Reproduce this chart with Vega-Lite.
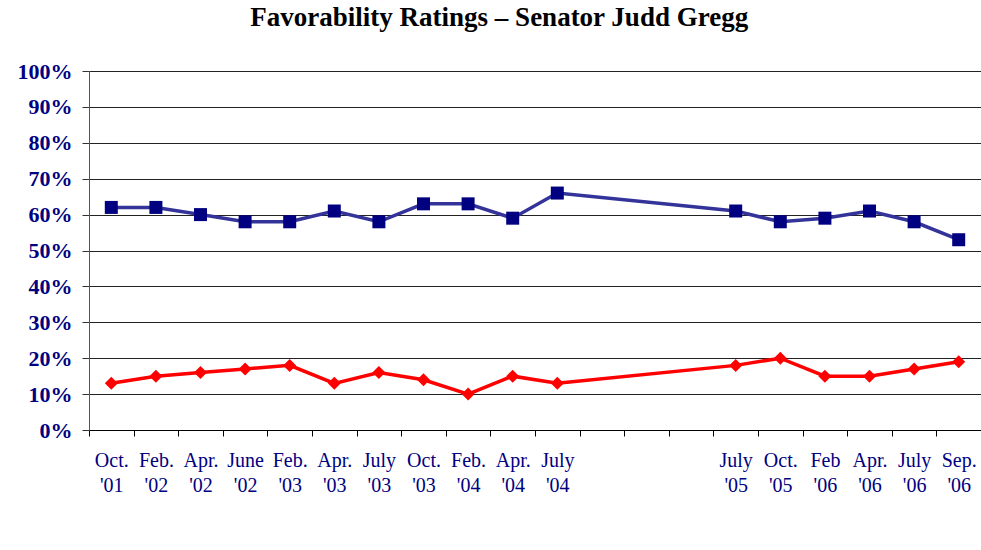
{
  "$schema": "https://vega.github.io/schema/vega-lite/v6.json",
  "autosize": {"type": "none"},
  "padding": {"left": 89, "top": 71, "right": 0, "bottom": 120},
  "width": 892,
  "height": 359,
  "background": "white",
  "title": {
    "text": "Favorability Ratings – Senator Judd Gregg",
    "font": "Liberation Serif",
    "fontSize": 27,
    "fontWeight": "bold",
    "color": "#000000",
    "anchor": "middle",
    "frame": "bounds",
    "offset": 28
  },
  "data": {
    "values": [
      {"period": "Oct.|'01", "series": "Favorable", "value": 62},
      {"period": "Feb.|'02", "series": "Favorable", "value": 62},
      {"period": "Apr.|'02", "series": "Favorable", "value": 60},
      {"period": "June|'02", "series": "Favorable", "value": 58},
      {"period": "Feb.|'03", "series": "Favorable", "value": 58},
      {"period": "Apr.|'03", "series": "Favorable", "value": 61},
      {"period": "July|'03", "series": "Favorable", "value": 58},
      {"period": "Oct.|'03", "series": "Favorable", "value": 63},
      {"period": "Feb.|'04", "series": "Favorable", "value": 63},
      {"period": "Apr.|'04", "series": "Favorable", "value": 59},
      {"period": "July|'04", "series": "Favorable", "value": 66},
      {"period": "July|'05", "series": "Favorable", "value": 61},
      {"period": "Oct.|'05", "series": "Favorable", "value": 58},
      {"period": "Feb|'06", "series": "Favorable", "value": 59},
      {"period": "Apr.|'06", "series": "Favorable", "value": 61},
      {"period": "July|'06", "series": "Favorable", "value": 58},
      {"period": "Sep.|'06", "series": "Favorable", "value": 53},
      {"period": "Oct.|'01", "series": "Unfavorable", "value": 13},
      {"period": "Feb.|'02", "series": "Unfavorable", "value": 15},
      {"period": "Apr.|'02", "series": "Unfavorable", "value": 16},
      {"period": "June|'02", "series": "Unfavorable", "value": 17},
      {"period": "Feb.|'03", "series": "Unfavorable", "value": 18},
      {"period": "Apr.|'03", "series": "Unfavorable", "value": 13},
      {"period": "July|'03", "series": "Unfavorable", "value": 16},
      {"period": "Oct.|'03", "series": "Unfavorable", "value": 14},
      {"period": "Feb.|'04", "series": "Unfavorable", "value": 10},
      {"period": "Apr.|'04", "series": "Unfavorable", "value": 15},
      {"period": "July|'04", "series": "Unfavorable", "value": 13},
      {"period": "July|'05", "series": "Unfavorable", "value": 18},
      {"period": "Oct.|'05", "series": "Unfavorable", "value": 20},
      {"period": "Feb|'06", "series": "Unfavorable", "value": 15},
      {"period": "Apr.|'06", "series": "Unfavorable", "value": 15},
      {"period": "July|'06", "series": "Unfavorable", "value": 17},
      {"period": "Sep.|'06", "series": "Unfavorable", "value": 19}
    ]
  },
  "encoding": {
    "x": {
      "field": "period",
      "type": "ordinal",
      "scale": {
        "type": "band",
        "paddingInner": 0,
        "paddingOuter": 0,
        "domain": ["Oct.|'01", "Feb.|'02", "Apr.|'02", "June|'02", "Feb.|'03", "Apr.|'03", "July|'03", "Oct.|'03", "Feb.|'04", "Apr.|'04", "July|'04", " ", "  ", "   ", "July|'05", "Oct.|'05", "Feb|'06", "Apr.|'06", "July|'06", "Sep.|'06"]
      },
      "axis": {
        "title": null,
        "labelAngle": 0,
        "tickBand": "extent",
        "labelExpr": "isValid(datum.value) ? split('' + datum.value, '|') : ''",
        "labelFont": "Liberation Serif",
        "labelFontSize": 20,
        "labelLineHeight": 25,
        "labelColor": "#000080",
        "labelPadding": 14,
        "tickSize": 6,
        "tickColor": "#000000",
        "domainColor": "#000000",
        "grid": false
      }
    },
    "y": {
      "field": "value",
      "type": "quantitative",
      "scale": {"domain": [0, 100]},
      "axis": {
        "title": null,
        "values": [0, 10, 20, 30, 40, 50, 60, 70, 80, 90, 100],
        "labelExpr": "datum.value + '%'",
        "labelFont": "Liberation Serif",
        "labelFontSize": 22,
        "labelFontWeight": "bold",
        "labelColor": "#000080",
        "labelPadding": 10,
        "tickSize": 7,
        "tickColor": "#333333",
        "domainColor": "#555555",
        "grid": true,
        "gridColor": "#222222",
        "gridOpacity": 1
      }
    }
  },
  "layer": [
    {
      "mark": {"type": "line", "strokeWidth": 3.5},
      "encoding": {
        "color": {
          "field": "series",
          "type": "nominal",
          "scale": {"domain": ["Favorable", "Unfavorable"], "range": ["#333399", "#FF0000"]},
          "legend": null
        }
      }
    },
    {
      "mark": {"type": "point", "filled": true, "opacity": 1},
      "encoding": {
        "fill": {
          "field": "series",
          "type": "nominal",
          "scale": {"domain": ["Favorable", "Unfavorable"], "range": ["#000080", "#FF0000"]},
          "legend": {
            "title": null,
            "orient": "none",
            "legendX": 274,
            "legendY": 446,
            "direction": "horizontal",
            "symbolSize": 1764,
            "symbolStrokeWidth": 3.5,
            "labelFont": "Liberation Serif",
            "labelFontSize": 22,
            "labelFontWeight": "bold",
            "labelColor": "#003366",
            "labelOffset": 5,
            "columnPadding": 12,
            "padding": 6,
            "strokeColor": "#000000",
            "fillColor": "#FFFFFF",
            "encode": {
              "symbols": {
                "update": {
                  "shape": {"signal": "datum.value == 'Favorable' ? 'M-1,0H1M-0.28,-0.28H0.28V0.28H-0.28Z' : 'M-1,0H1M0,-0.3L0.3,0L0,0.3L-0.3,0Z'"},
                  "stroke": {"signal": "datum.value == 'Favorable' ? '#333399' : '#FF0000'"},
                  "strokeWidth": {"value": 3.5}
                }
              }
            }
          }
        },
        "shape": {
          "field": "series",
          "type": "nominal",
          "scale": {"domain": ["Favorable", "Unfavorable"], "range": ["square", "diamond"]},
          "legend": {
            "title": null,
            "orient": "none",
            "legendX": 274,
            "legendY": 446,
            "direction": "horizontal",
            "symbolSize": 1764,
            "symbolStrokeWidth": 3.5,
            "labelFont": "Liberation Serif",
            "labelFontSize": 22,
            "labelFontWeight": "bold",
            "labelColor": "#003366",
            "labelOffset": 5,
            "columnPadding": 12,
            "padding": 6,
            "strokeColor": "#000000",
            "fillColor": "#FFFFFF",
            "encode": {
              "symbols": {
                "update": {
                  "shape": {"signal": "datum.value == 'Favorable' ? 'M-1,0H1M-0.28,-0.28H0.28V0.28H-0.28Z' : 'M-1,0H1M0,-0.3L0.3,0L0,0.3L-0.3,0Z'"},
                  "stroke": {"signal": "datum.value == 'Favorable' ? '#333399' : '#FF0000'"},
                  "strokeWidth": {"value": 3.5}
                }
              }
            }
          }
        },
        "size": {"value": 169}
      }
    }
  ]
}
